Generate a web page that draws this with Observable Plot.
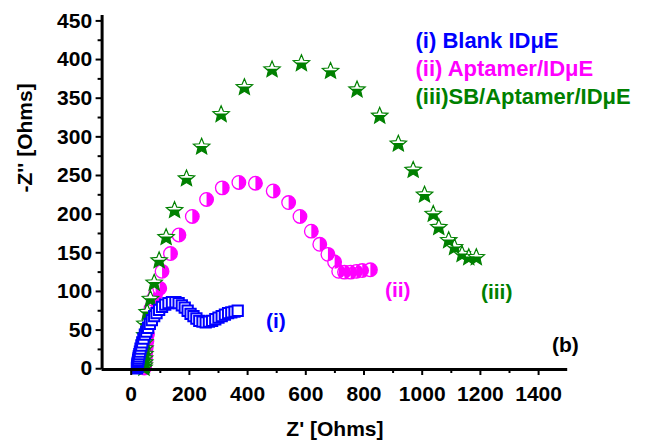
<!DOCTYPE html>
<html>
<head>
<meta charset="utf-8">
<script src="https://cdn.jsdelivr.net/npm/d3@7"></script>
<script src="https://cdn.jsdelivr.net/npm/@observablehq/plot@0.6"></script>
<style>
  html, body { margin: 0; padding: 0; background: #fff; }
  #chart svg { display: block; }
</style>
</head>
<body>
<div id="chart"></div>
<script>
// ---------- data ----------
// (i) Blank IDµE
const blankZre = [20,20,21,21,22,22,23,24,25,26,28,30,32,35,38,42,47,52,58,64,71,79,87,96,106,117,128,140,152,163,174,184,194,204,214,224,234,245,256,267,278,289,300,311,322,333,344,355,366];
const blankZim = [0.5,1.5,2.5,4,5.5,7,9,11,13.5,16,19,22,26,30,34,39,44,48,53,58,63,68,72,76,80,83,85,86,86,85,82,79,75,71,68,65,62,61,60,61,62,64,66,68,70,72,73,74,75];
// (ii) Aptamer/IDµE
const aptZre = [45,46,47,48,49,50,52,54,56,59,63,68,75,84,98,106,135,164,210,259,313,370,427,488,541,580,619,648,676,699,713,733,754,774,794,822];
const aptZim = [1,3,6,10,15,21,28,36,45,55,66,78,90,97,104,126,149,173,197,219,234,241,240,230,215,197,178,161,148,138,126,125,125,126,127,128];
// (iii) SB/Aptamer/IDµE
const sbZre = [44,45,46,46,47,47,47,47,47,55,66,79,96,120,149,190,242,309,389,484,585,685,776,854,918,969,1008,1038,1057,1091,1111,1137,1160,1186];
const sbZim = [1,4,8,13,19,26,34,43,58,73,90,111,140,170,205,246,287,329,364,387,395,385,361,327,291,257,225,200,183,166,157,148,144,144];

const xMajor = [0,200,400,600,800,1000,1200,1400];
const xMinor = [100,300,500,700,900,1100,1300];
const yMajor = [0,50,100,150,200,250,300,350,400,450];
const yMinor = [25,75,125,175,225,275,325,375,425];

const legendLabels = ["(i) Blank IDμE", "(ii) Aptamer/IDμE", "(iii)SB/Aptamer/IDμE"];
const curveLabels = ["(i)", "(ii)", "(iii)"];
const panelLabel = "(b)";
const xTitle = "Z' [Ohms]";
const yTitle = "-Z'' [Ohms]";

const BLUE = "#0000FF", MAGENTA = "#FF00FF", GREEN = "#008000";

const blank = blankZre.map((x, i) => ({x, y: blankZim[i]}));
const apt = aptZre.map((x, i) => ({x, y: aptZim[i]}));
const sb = sbZre.map((x, i) => ({x, y: sbZim[i]}));

// ---------- custom symbols ----------
function starPoints(R) {
  const pts = [];
  for (let k = 0; k < 10; k++) {
    const a = -Math.PI / 2 + k * Math.PI / 5;
    const rr = k % 2 === 0 ? R : R * 0.45;
    pts.push([rr * Math.cos(a), rr * Math.sin(a)]);
  }
  return pts;
}
function clipBelow(pts, c) {
  const out = [];
  for (let i = 0; i < pts.length; i++) {
    const p = pts[i], q = pts[(i + 1) % pts.length];
    const pin = p[1] >= c, qin = q[1] >= c;
    if (pin) out.push(p);
    if (pin !== qin) {
      const t = (c - p[1]) / (q[1] - p[1]);
      out.push([p[0] + t * (q[0] - p[0]), c]);
    }
  }
  return out;
}
function drawPoly(ctx, pts) {
  ctx.moveTo(pts[0][0], pts[0][1]);
  for (let i = 1; i < pts.length; i++) ctx.lineTo(pts[i][0], pts[i][1]);
  ctx.closePath();
}
const starSym = { draw(ctx, size) { const R = Math.sqrt(size / Math.PI); drawPoly(ctx, starPoints(R)); } };
const starLowerSym = { draw(ctx, size) { const R = Math.sqrt(size / Math.PI); drawPoly(ctx, clipBelow(starPoints(R), -0.1 * R)); } };
const rightHalfSym = { draw(ctx, size) {
  const r = Math.sqrt(size / Math.PI);
  ctx.moveTo(0, -r); ctx.arc(0, 0, r, -Math.PI / 2, Math.PI / 2); ctx.closePath();
} };

const fmt = d => String(d);

// ---------- plot ----------
const plot = Plot.plot({
  width: 647,
  height: 445,
  marginTop: 15,
  marginRight: 79.8,
  marginBottom: 76,
  marginLeft: 101.6,
  style: { fontFamily: "'Liberation Sans', Arial, sans-serif", fontSize: "21px", fontWeight: "bold", color: "#000", background: "#fff" },
  x: { domain: [-100, 1500] },
  y: { domain: [-1, 457] },
  marks: [
    // curves
    Plot.dot(apt, { x: "x", y: "y", r: 6.8, fill: "white", stroke: MAGENTA, strokeWidth: 1.3 }),
    Plot.dot(apt, { x: "x", y: "y", r: 6.8, symbol: rightHalfSym, fill: MAGENTA }),
    Plot.dot(sb, { x: "x", y: "y", r: 8.6, symbol: starSym, fill: "white", stroke: GREEN, strokeWidth: 1.2 }),
    Plot.dot(sb, { x: "x", y: "y", r: 8.6, symbol: starLowerSym, fill: GREEN }),
    Plot.dot(blank, { x: "x", y: "y", r: 5.8, symbol: "square", fill: "white", stroke: BLUE, strokeWidth: 2 }),
    // axes
    Plot.axisX(xMajor, { label: null, tickFormat: fmt, tickSize: 6, tickPadding: 11, strokeWidth: 2, fontWeight: "bold", fontSize: 21 }),
    Plot.axisX(xMinor, { label: null, tickSize: 4, strokeWidth: 2, text: null }),
    Plot.axisY(yMajor, { label: null, tickFormat: fmt, tickSize: 6, tickPadding: 4, strokeWidth: 2, fontWeight: "bold", fontSize: 21 }),
    Plot.axisY(yMinor, { label: null, tickSize: 4, strokeWidth: 2, text: null }),
    Plot.ruleY([-1], { stroke: "black", strokeWidth: 3 }),
    Plot.ruleX([-100], { stroke: "black", strokeWidth: 3 }),
    // axis titles
    Plot.text([xTitle], { frameAnchor: "bottom", dy: 66, fontSize: 21, fontWeight: "bold", fill: "black" }),
    Plot.text([yTitle], { frameAnchor: "left", dx: -77, rotate: -90, fontSize: 21, fontWeight: "bold", fill: "black" }),
    // legend
    Plot.text([legendLabels[0]], { x: 977, y: 424, textAnchor: "start", fill: BLUE, fontSize: 22, fontWeight: "bold" }),
    Plot.text([legendLabels[1]], { x: 977, y: 388, textAnchor: "start", fill: MAGENTA, fontSize: 22, fontWeight: "bold" }),
    Plot.text([legendLabels[2]], { x: 977, y: 352, textAnchor: "start", fill: GREEN, fontSize: 22, fontWeight: "bold" }),
    // curve labels
    Plot.text([curveLabels[0]], { x: 497, y: 61, fill: BLUE, fontSize: 21, fontWeight: "bold" }),
    Plot.text([curveLabels[1]], { x: 916, y: 101, fill: MAGENTA, fontSize: 21, fontWeight: "bold" }),
    Plot.text([curveLabels[2]], { x: 1256, y: 99, fill: GREEN, fontSize: 21, fontWeight: "bold" }),
    Plot.text([panelLabel], { x: 1492, y: 30, fill: "black", fontSize: 21, fontWeight: "bold" })
  ]
});
document.getElementById("chart").appendChild(plot);
</script>
</body>
</html>
